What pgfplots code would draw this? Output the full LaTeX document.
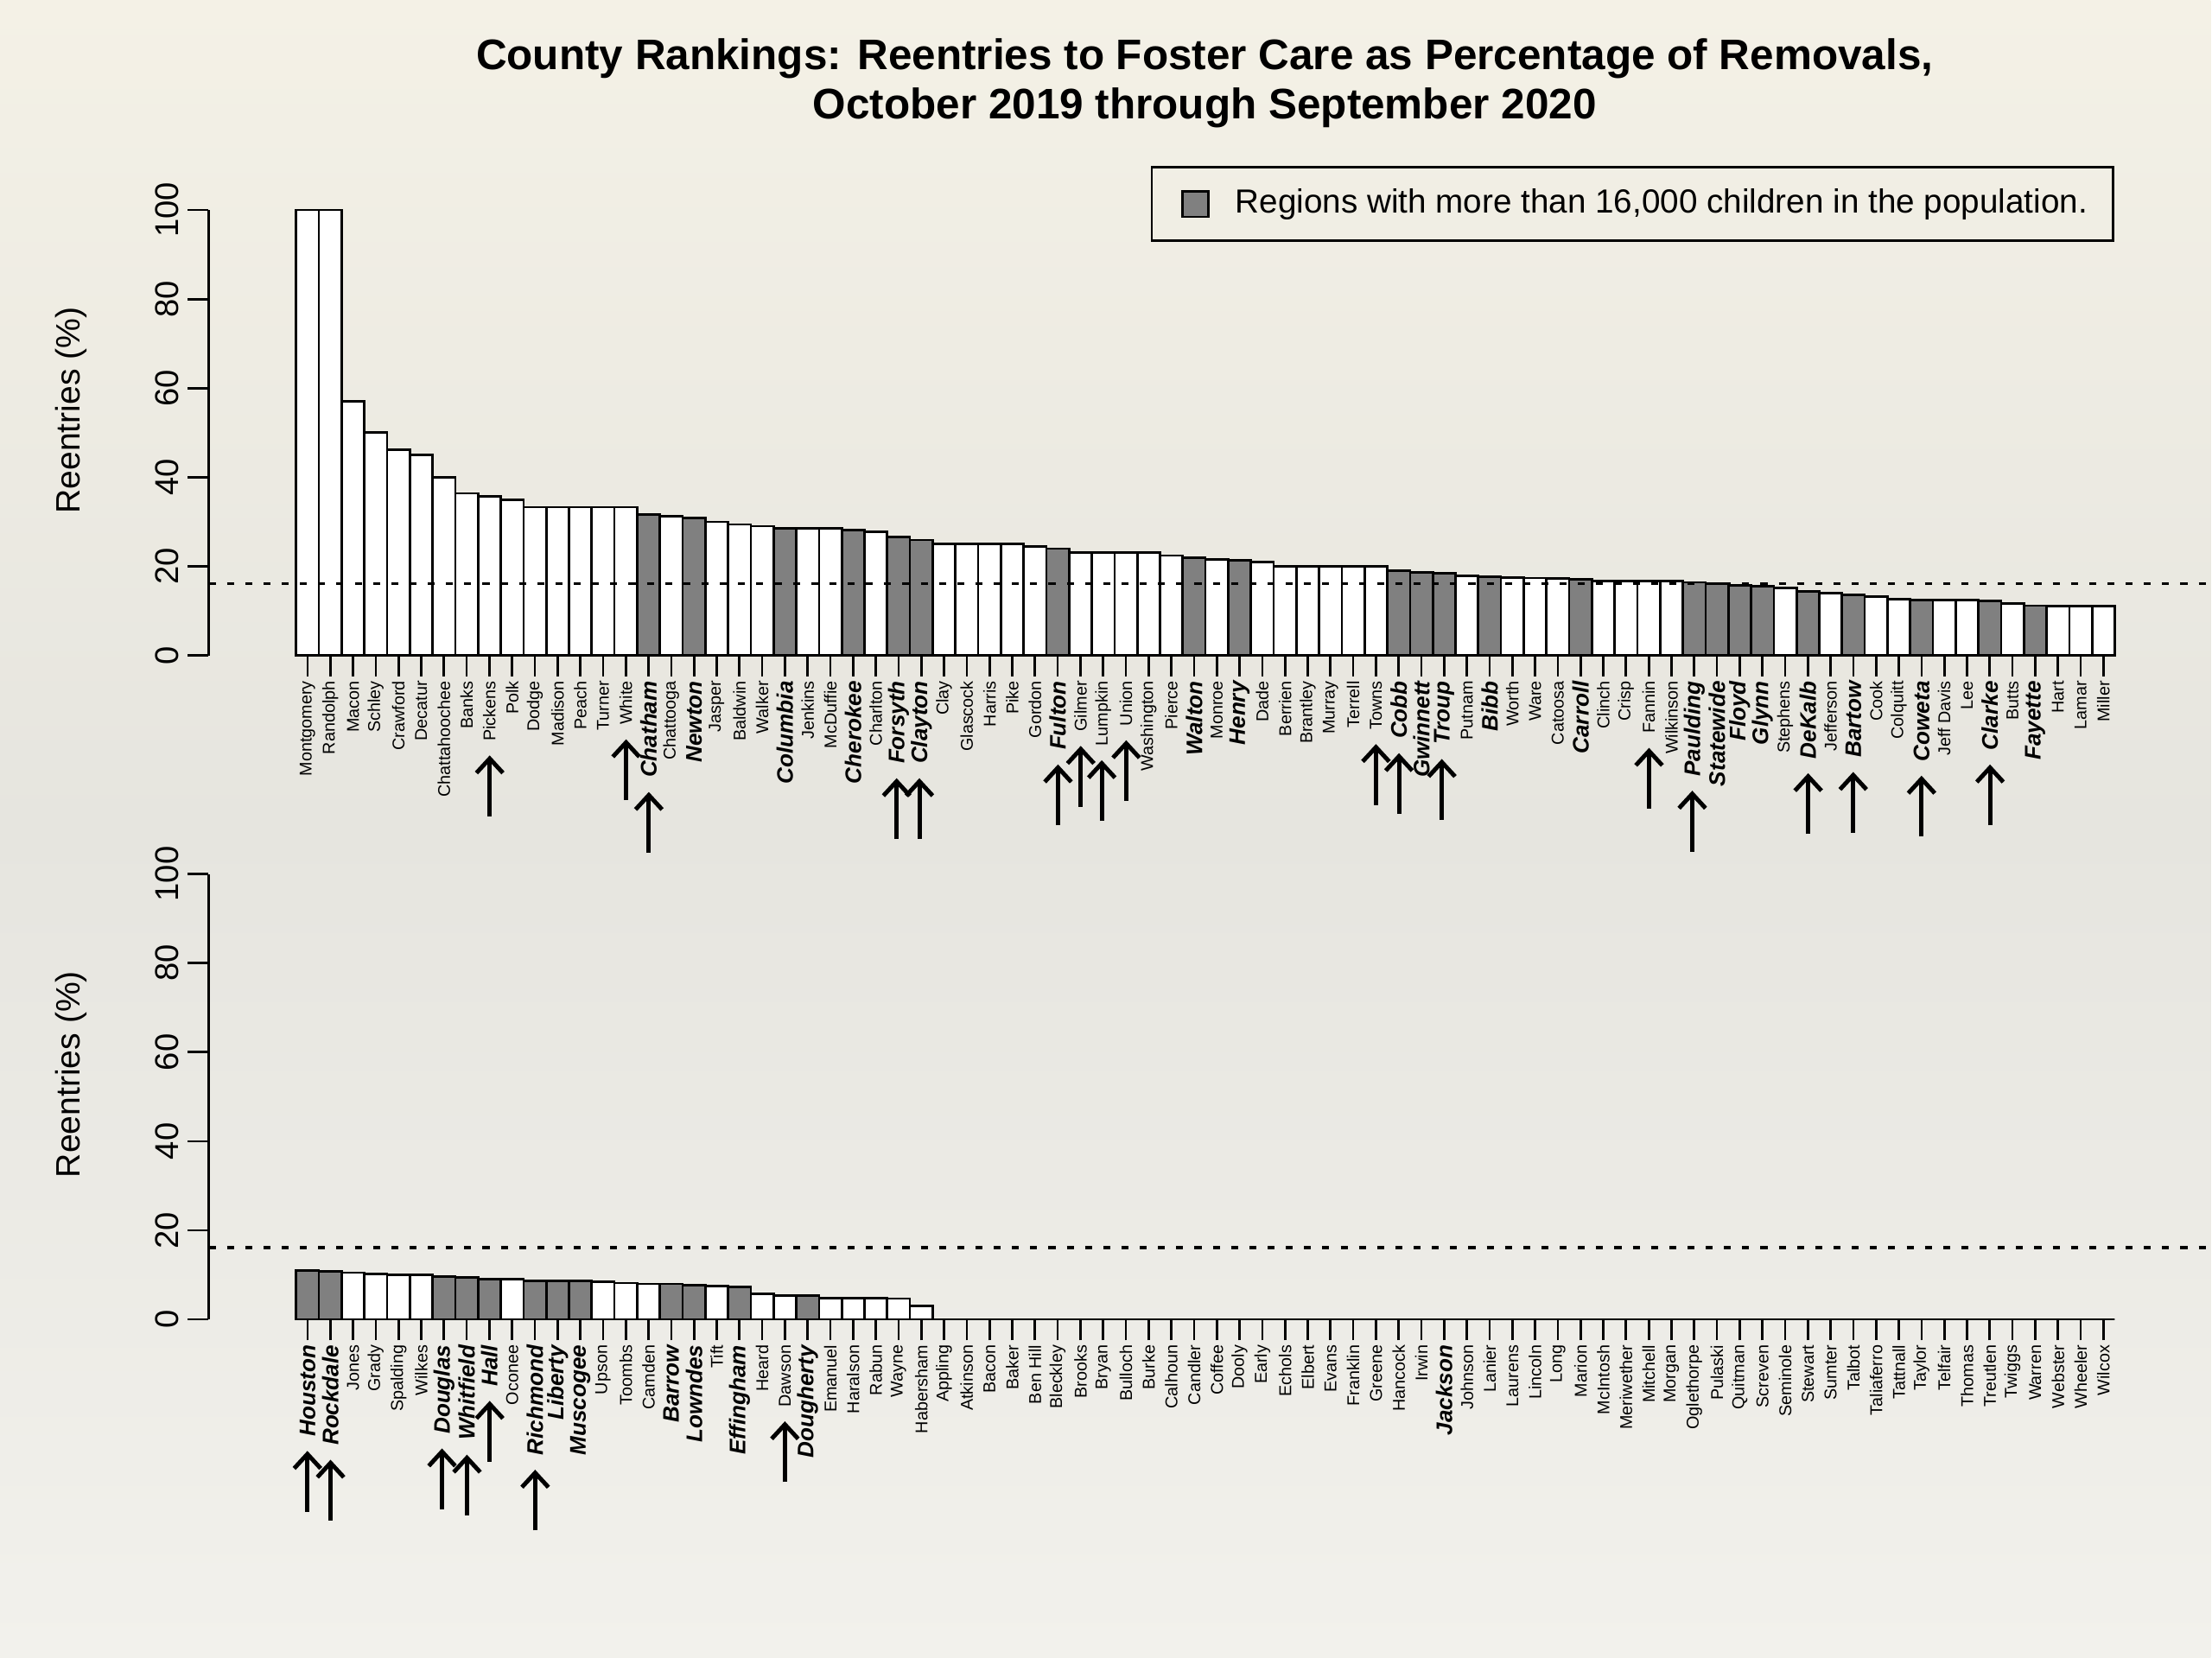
\documentclass[border=0pt]{standalone}
\usepackage{fontspec}
\setmainfont{Liberation Sans}
\usepackage{pgfplots}
\pgfplotsset{compat=1.18}
\usetikzlibrary{arrows.meta}
\definecolor{bgtop}{HTML}{F4F1E6}
\definecolor{bgmid}{HTML}{E6E5DF}
\definecolor{bgbot}{HTML}{F2F1EC}
\definecolor{barg}{HTML}{808080}
\newcommand{\B}[1]{{\fontsize{5.8}{6}\selectfont\bfseries\itshape #1}}
\newcommand{\A}{\smash{\tikz[baseline=-1.5pt]\draw[line width=1.1pt,-{Straight Barb[length=1.3mm,width=2.4mm]}] (0,0)--(0.55cm,0);}\hspace{1.1mm}}
\newcommand{\AB}{\smash{\tikz[baseline=-2pt]\draw[line width=1.1pt,-{Straight Barb[length=1.3mm,width=2.4mm]}] (0,0)--(0.55cm,0);}\hspace{1.1mm}}
\pgfplotsset{
  rstyle/.style={
    scale only axis, width=18.112cm, height=4.031cm,
    xmin=-4.35, xmax=83.71, ymin=0, ymax=100,
    clip=false,
    axis lines*=left,
    x axis line style={draw=none},
    y axis line style={line width=0.6pt},
    tick align=outside,
    major tick length=0.19cm,
    every tick/.style={black, line width=0.6pt},
    xtick={0,...,79},
    ytick={0,20,40,60,80,100},
    /pgf/number format/assume math mode=true,
    yticklabel style={rotate=90, anchor=south, font=\fontsize{8.5}{10}\selectfont, inner sep=2pt},
    xticklabel style={rotate=90, anchor=east, font=\fontsize{4.4}{5}\selectfont, inner sep=1pt},
    ylabel={Reentries (\%)},
    ylabel style={at={(axis description cs:-0.0689,0.55)}, anchor=center, rotate=0, font=\fontsize{8.7}{10}\selectfont},
    ybar, bar width=1, bar shift=0pt,
  }
}
\begin{document}
\begin{tikzpicture}
\shade[top color=bgtop, bottom color=bgbot, middle color=bgmid] (0,0) rectangle (20,15);
\node[font=\fontsize{11}{12.7}\selectfont\bfseries, align=center] at (10.9,14.25) {County Rankings: Reentries to Foster Care as Percentage of Removals,\\October 2019 through September 2020};
\begin{axis}[rstyle, at={(1.888cm,9.069cm)}, anchor=south west,
  xticklabels={Montgomery,Randolph,Macon,Schley,Crawford,Decatur,Chattahoochee,Banks,\A Pickens,Polk,Dodge,Madison,Peach,Turner,\A White,\AB\B{Chatham},Chattooga,\B{Newton},Jasper,Baldwin,Walker,\B{Columbia},Jenkins,McDuffie,\B{Cherokee},Charlton,\AB\B{Forsyth},\AB\B{Clayton},Clay,Glascock,Harris,Pike,Gordon,\AB\B{Fulton},\A Gilmer,\A Lumpkin,\A Union,Washington,Pierce,\B{Walton},Monroe,\B{Henry},Dade,Berrien,Brantley,Murray,Terrell,\A Towns,\AB\B{Cobb},\B{Gwinnett},\AB\B{Troup},Putnam,\B{Bibb},Worth,Ware,Catoosa,\B{Carroll},Clinch,Crisp,\A Fannin,Wilkinson,\AB\B{Paulding},\B{Statewide},\B{Floyd},\B{Glynn},Stephens,\AB\B{DeKalb},Jefferson,\AB\B{Bartow},Cook,Colquitt,\AB\B{Coweta},Jeff Davis,Lee,\AB\B{Clarke},Butts,\B{Fayette},Hart,Lamar,Miller},
  legend style={at={(axis description cs:0.952,1.098)}, anchor=north east, draw=black, line width=0.6pt, fill=none, font=\fontsize{8.6}{10}\selectfont, inner xsep=0.16cm, inner ysep=0.125cm, /tikz/every odd column/.append style={column sep=0.165cm}},
  legend image code/.code={\path (0cm,0cm); \draw[#1, line width=0.6pt] (0.11cm,-0.115cm) rectangle (0.34cm,0.115cm);},
]
\addplot[draw=black, line width=0.6pt, fill=white, forget plot] coordinates {(0,100)(1,100)(2,57.1)(3,50)(4,46.2)(5,45)(6,40)(7,36.4)(8,35.7)(9,35)(10,33.3)(11,33.3)(12,33.3)(13,33.3)(14,33.3)(16,31.3)(18,30)(19,29.4)(20,29.0)(22,28.6)(23,28.6)(25,27.8)(28,25)(29,25)(30,25)(31,25)(32,24.4)(34,23.1)(35,23.1)(36,23.1)(37,23.1)(38,22.4)(40,21.5)(42,21.0)(43,20)(44,20)(45,20)(46,20)(47,20)(51,17.9)(53,17.5)(54,17.4)(55,17.3)(57,16.7)(58,16.7)(59,16.7)(60,16.7)(65,15.2)(67,14.0)(69,13.2)(70,12.7)(72,12.5)(73,12.5)(75,11.7)(77,11.1)(78,11.1)(79,11.1)};
\addplot[draw=black, line width=0.6pt, fill=barg] coordinates {(15,31.6)(17,30.8)(21,28.6)(24,28.2)(26,26.6)(27,25.9)(33,24.0)(39,21.9)(41,21.3)(48,19.0)(49,18.7)(50,18.4)(52,17.7)(56,17.1)(61,16.4)(62,16.1)(63,15.8)(64,15.6)(66,14.4)(68,13.6)(71,12.5)(74,12.2)(76,11.2)};
\addlegendentry{Regions with more than 16,000 children in the population.}
\addplot[sharp plot, black, line width=0.8pt, dash pattern=on 1.8pt off 2.9pt, forget plot] coordinates {(-4.35,16.1)(83.71,16.1)};
\end{axis}
\begin{axis}[rstyle, at={(1.888cm,3.061cm)}, anchor=south west,
  xticklabels={\AB\B{Houston},\AB\B{Rockdale},Jones,Grady,Spalding,Wilkes,\AB\B{Douglas},\AB\B{Whitfield},\AB\B{Hall},Oconee,\AB\B{Richmond},\B{Liberty},\B{Muscogee},Upson,Toombs,Camden,\B{Barrow},\B{Lowndes},Tift,\B{Effingham},Heard,\A Dawson,\B{Dougherty},Emanuel,Haralson,Rabun,Wayne,Habersham,Appling,Atkinson,Bacon,Baker,Ben Hill,Bleckley,Brooks,Bryan,Bulloch,Burke,Calhoun,Candler,Coffee,Dooly,Early,Echols,Elbert,Evans,Franklin,Greene,Hancock,Irwin,\B{Jackson},Johnson,Lanier,Laurens,Lincoln,Long,Marion,McIntosh,Meriwether,Mitchell,Morgan,Oglethorpe,Pulaski,Quitman,Screven,Seminole,Stewart,Sumter,Talbot,Taliaferro,Tattnall,Taylor,Telfair,Thomas,Treutlen,Twiggs,Warren,Webster,Wheeler,Wilcox},
]
\addplot[draw=black, line width=0.6pt, fill=white] coordinates {(2,10.5)(3,10.2)(4,10.0)(5,10.0)(9,9.0)(13,8.5)(14,8.2)(15,8.0)(18,7.5)(20,5.7)(21,5.4)(23,4.8)(24,4.8)(25,4.8)(26,4.7)(27,3.0)(28,0)(29,0)(30,0)(31,0)(32,0)(33,0)(34,0)(35,0)(36,0)(37,0)(38,0)(39,0)(40,0)(41,0)(42,0)(43,0)(44,0)(45,0)(46,0)(47,0)(48,0)(49,0)(50,0)(51,0)(52,0)(53,0)(54,0)(55,0)(56,0)(57,0)(58,0)(59,0)(60,0)(61,0)(62,0)(63,0)(64,0)(65,0)(66,0)(67,0)(68,0)(69,0)(70,0)(71,0)(72,0)(73,0)(74,0)(75,0)(76,0)(77,0)(78,0)(79,0)};
\addplot[draw=black, line width=0.6pt, fill=barg] coordinates {(0,11.0)(1,10.8)(6,9.6)(7,9.4)(8,9.1)(10,8.7)(11,8.7)(12,8.6)(16,8.0)(17,7.7)(19,7.3)(22,5.3)};
\addplot[sharp plot, black, line width=0.8pt, dash pattern=on 1.8pt off 2.9pt] coordinates {(-4.35,16.1)(83.71,16.1)};
\end{axis}
\end{tikzpicture}
\end{document}
